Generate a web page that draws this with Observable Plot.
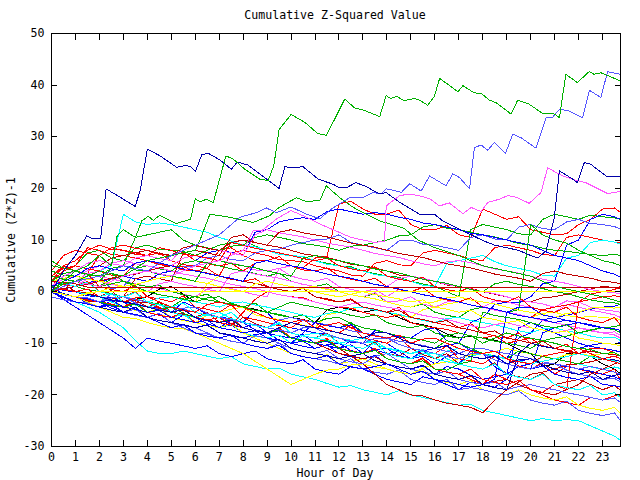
<!DOCTYPE html>
<html><head><meta charset="utf-8">
<script src="https://cdn.jsdelivr.net/npm/d3@7"></script>
<script src="https://cdn.jsdelivr.net/npm/@observablehq/plot@0.6"></script>
<style>
body{margin:0;background:#fff}
#chart svg path, #chart svg line{shape-rendering:crispEdges}
</style></head><body><div id="chart"></div><script>
// ---- data ----
const halfHours = [0,0.5,1,1.5,2,2.5,3,3.5,4,4.5,5,5.5,6,6.5,7,7.5,8,8.5,9,9.5,10,10.5,11,11.5,12,12.5,13,13.5,14,14.5,15,15.5,16,16.5,17,17.5,18,18.5,19,19.5,20,20.5,21,21.5,22,22.5,23,23.5,23.75];
const xTicks = [0,1,2,3,4,5,6,7,8,9,10,11,12,13,14,15,16,17,18,19,20,21,22,23];
const yTicks = [-30,-20,-10,0,10,20,30,40,50];

const bundleColors = ["red","green","blue","lightblue","red","cyan","green","blue","darkred",
  "blue","magenta","yellow","blue","blue","blue","cyan","black","red",
  "darkred","red","yellow","lightblue","cyan","blue","yellow","darkred","darkred","lightblue",
  "magenta","red","green","red","green","magenta","cyan","yellow","red","green",
  "lightblue","darkblue","magenta","red","cyan","blue","green","darkred","yellow","blue",
  "red","green","magenta","darkred","blue","lightblue","cyan","red","darkblue","green"];
const bundleValues = [
  [2,5,4,3.5,7,8.5,8,7.2,7,7.5,6,5.2,5,4.5,8,8.5,7,6,6,6.8,5,4.6,6.5,6.8,17,17.5,16,15,15,15.8,13,12,12,12.8,11,10.5,16,15,14,14.5,12,11.5,11,11.2,13,14,16,16.2,15.3],
  [6,4.5,5,7.5,8,6.5,6,8.5,9,8.2,8,7.8,7,8,9,9.5,10,8.8,8,7.5,7,6.8,6,5.5,5,4.8,4,3.5,3,2.8,2,1.5,1,0,-1,12,13,12.5,12,11.2,11,14,15,14.5,14,14.8,14.5,14.3,14],
  [1,0.2,0,-0.8,-1,-1.2,-2,-2.5,-3,-3.2,-4,-2,-3,-4.5,-5,-5.2,-6,-3.5,-4,-6.5,-7,-7.5,-8,-8.2,-9,-9.8,-10,-7.5,-8,-8.8,-9,-7.5,-7,-9.5,-10,-6,-5,-2.5,-2,-2.2,-1,1.5,2,9,10,14,15,14.5,14],
  [0,1.5,2,2.5,3,0.5,1,3.5,4,3.3,3,4.8,5,6.5,7,6.2,6,7.5,8,8.2,9,9.5,10,10.2,11,9.5,9,8.5,8,9.8,10,9.2,9,8.5,8,10.5,11,10.2,10,12.5,13,12.2,12,13.5,14,13.2,13,12.6,12.1],
  [3,4.5,5,8.5,8,7.2,7,6.5,6,5.2,5,4.8,4,3.5,3,7.5,8,7.5,7,6.2,6,5.8,5,4.5,4,3.2,3,5.5,6,5.2,5,7.5,8,7.5,7,6.3,6,8.5,9,8.5,8,7.2,7,10.5,11,10.5,10,9.6,9.5],
  [1,1.5,2,3,4,5,15,13.5,13,13.3,13,12.5,12,11.5,10.5,9.8,9,8.7,8,7.2,7,6.8,6,5.3,5,4.6,4,3.3,3,2.5,2,1.2,1,5.5,6,6.5,7,5.8,5,4.5,4,3.2,3,6.5,7,9.5,10,9.6,9.2],
  [4,3.2,3,2.5,2,4.5,5,10.5,11,11.5,12,10,9,8.5,8,8.8,9,10.5,11,10.5,10,9.3,9,8.6,8,8.8,9,9.5,10,10.8,11,12.5,13,12.3,12,11.5,11,10.6,10,9.3,9,8.4,8,7.8,7.5,7.2,7,7.2,7],
  [0,0.5,1,1.8,2,2.4,3,2.5,2,3.5,4,5.5,6,7.5,8,7.6,7,11.5,12,13.5,14,14.3,14,15.5,16,15.5,15,15.3,15,14.4,14,13.3,13,12.5,12,11.3,11,10.5,10,9.5,9,8,7,6.5,6,5,4,3.4,2.8],
  [0,-0.5,-1,-1.8,-2,-1.5,-1,2.5,3,2.5,2,7.5,8,7.5,7,10.5,11,9.5,9,8.6,8,7.3,7,6.6,6,5.3,5,4.6,4,3.2,3,2.5,2,1.3,1,0.6,0,-0.5,-1,-1.6,-2,-1.2,-1,-0.5,0,0.5,1,0.8,0.6],
  [1,-0.5,-1,-1.2,-2,-2.8,-3,-2,-4,-4.6,-5,-4.2,-6,-4.5,-5,-6.5,-7,-6.2,-8,-8.6,-9,-8.3,-10,-10.5,-11,-10.3,-12,-9.5,-10,-11.5,-12,-11.4,-13,-13.6,-14,-11.5,-12,-12.6,-13,-9,-8,-5.5,-5,-4.6,-4,-3.4,-3,-2.8,-2.4],
  [2,1.3,1,2.5,3,2.4,2,1.5,1,0.6,0,-0.5,-1,0.5,1,0.6,0,-0.6,-1,4.5,5,4.5,4,3.4,3,2.6,2,1.4,1,2.5,3,2.6,2,1.4,1,0.5,0,-0.4,-1,-1.6,-2,-2.4,-3,-1.8,-2,-3,-3.5,-3.8,-4],
  [0,-0.6,-1,-1.4,-2,-2.6,-3,-3.4,-4,-4.5,-5,-5.6,-6,-4.5,-4,-3.4,-3,-4.5,-5,-5.4,-6,-6.5,-7,-4.5,-4,-3.3,-3,-3.6,-4,-4.6,-5,-3.5,-3,-2.4,-2,-2.6,-3,-3.5,-4,-4.6,-5,-4.2,-4,-4.6,-5,-4.8,-5,-5.2,-5.4],
  [0,-0.4,-1,-2.2,-3,-2.4,-4,-4.6,-5,-4.3,-6,-6.6,-7,-6.4,-8,-8.6,-9,-8.3,-8,-9.4,-10,-9.6,-11,-10.3,-10,-11.4,-12,-11.2,-11,-12.4,-13,-12.5,-14,-12.5,-12,-12.6,-13,-12.4,-14,-14.6,-15,-8,-7,-6.5,-6,-6.6,-7,-7.4,-7.9],
  [0,-1.2,-2,-2.4,-3,-1.8,-2,-3.4,-4,-3.6,-5,-5.4,-6,-6.6,-7,-5.5,-6,-7.4,-8,-7.6,-9,-9.4,-10,-9.6,-11,-9.5,-10,-11.3,-12,-11.6,-13,-11.5,-11,-10.4,-10,-11.4,-12,-14.5,-16,-14.5,-14,-12.5,-12,-11.6,-11,-10.4,-10,-10.2,-9.8],
  [0,-0.6,-1,-1.4,-2,-3.2,-4,-3.4,-5,-5.6,-6,-4.5,-5,-6.2,-7,-6.4,-8,-8.6,-9,-8.4,-10,-10.6,-11,-10.3,-12,-12.6,-13,-12.4,-14,-14.6,-15,-14.4,-16,-14.5,-15,-16.2,-17,-16.5,-16,-7,-6,-7,-8,-9,-10,-10.6,-11,-11.4,-11.7],
  [1,0.4,0,-0.6,-1,-2,-3,-2.4,-4,-4.6,-5,-4.4,-6,-6.6,-7,-6.3,-8,-8.6,-9,-8.4,-10,-8.5,-8,-8.6,-9,-9.4,-10,-9.6,-11,-11.3,-12,-11.6,-13,-11.5,-11,-11.6,-12,-12.4,-13,-13.6,-14,-12.6,-13,-13.5,-14,-14.6,-15,-14.6,-14.9],
  [0,-0.6,-1,-1.5,-2,-2.6,-3,-1.5,-1,0.5,1,-0.5,-2,-1.2,-1,-2.2,-3,-3.4,-4,-4.6,-5,-5.4,-6,-3.5,-3,-3.5,-4,-3.6,-4,-5,-6,-6.4,-7,-8.2,-9,-8.6,-9,-9.4,-10,-11.2,-12,-14.5,-14,-12,-12,-12.5,-14,-15,-15.9],
  [3,2.4,2,3.5,1,0.4,0,1.2,-1,-1.4,-2,-0.8,-3,-3.4,-4,-2.5,-5,-5.4,-6,-6.6,-7,-5.5,-6,-7.4,-8,-6.5,-9,-9.4,-10,-8.8,-11,-11.4,-12,-10.5,-13,-13.4,-14,-12.5,-13,-14.4,-15,-13.8,-16,-14.5,-15,-15.6,-16,-15,-17.2],
  [1,1.5,0,-0.6,-1,0.2,-2,-2.6,-3,-2,-4,-4.6,-5,-4,-6,-6.5,-5,-6.2,-7,-6,-8,-8.6,-9,-8,-10,-10.6,-11,-9.8,-12,-12.5,-11,-12.2,-13,-12,-14,-14.6,-15,-13.8,-16,-16.5,-17,-15.8,-18,-17.5,-17,-18,-19,-18.2,-19.1],
  [2,1.4,1,2,0,-0.6,-1,0,-2,-3,-4,-3.5,-5,-5.6,-6,-5,-7,-7.6,-8,-7,-9,-9.6,-10,-9,-11,-11.5,-12,-11,-13,-13.6,-14,-12.8,-15,-15.6,-16,-17,-18,-16,-17,-18,-19,-20,-21,-21.5,-22,-20.5,-21,-20.2,-20],
  [0,-0.5,-1,-1.6,-2,-1.5,-3,-3.6,-4,-3.2,-5,-5.6,-6,-6.6,-7,-6.2,-8,-9,-10,-11,-12,-12.6,-13,-12.2,-14,-13.5,-13,-14,-15,-15.6,-16,-15,-17,-17.6,-18,-17.2,-19,-19.6,-20,-19,-20,-20.6,-21,-20.4,-22,-22.6,-23,-22.4,-23.6],
  [0,-0.6,-1,-2,-3,-2.6,-4,-4.6,-5,-4.2,-6,-6.6,-7,-8,-9,-8.4,-10,-10.6,-11,-10,-12,-12.6,-13,-13.4,-14,-13,-15,-15.6,-16,-15.2,-17,-17.6,-18,-17,-19,-18.6,-19,-19.6,-20,-19.2,-21,-21.6,-22,-21.2,-23,-23.6,-24,-23.5,-25],
  [0,-1,-2,-3,-4,-5.5,-7,-9.5,-11.5,-12,-12,-11.5,-12,-12.5,-13,-12.6,-14,-14.5,-15,-14.8,-16,-16.5,-17,-17.8,-18.5,-18.2,-19,-19.5,-20,-19.2,-20,-20.5,-21,-21.5,-22,-21.8,-23,-23.5,-24,-24.5,-25,-24.6,-25,-24.8,-25,-26,-27,-28,-28.8],
  [0,-1.5,-3,-4.5,-6,-7.5,-9,-11,-9,-9.6,-10,-10.5,-11,-10.5,-12,-12.6,-12,-11.5,-13,-13.6,-14,-13.2,-15,-15.6,-16,-14.5,-15,-16,-17,-17.5,-18,-16.5,-17,-18,-19,-17.5,-18,-18.5,-17,-13.5,-13,-13.6,-14,-14.5,-15,-15.4,-16,-16.5,-17],
  [0,-0.6,-1,-2,-3,-4,-5,-5.2,-6,-6.6,-7,-7.2,-8,-9,-10,-11,-12,-13.5,-15,-16.5,-18,-17,-16,-15.2,-15,-14.2,-14,-14.6,-15,-15.6,-16,-14.8,-14,-13.6,-13,-12.2,-12,-11.6,-11,-11.6,-12,-12.5,-13,-12.2,-12,-12.4,-12,-12.1,-12.5],
  [1,0.5,0,-0.2,-1,-1.6,-2,-1.6,-3,-3.6,-4,-3.4,-5,-5.6,-6,-5.2,-7,-7.6,-8,-7.4,-9,-9.6,-10,-9.2,-11,-12.5,-14,-16,-18,-19,-20,-20.2,-21,-21.6,-22,-22.4,-23.5,-21,-19,-17.5,-16,-15.6,-15,-14.2,-14,-13.6,-13,-13.6,-14],
  [0,-0.6,-1,-1.2,-2,-2.6,-3,-2.2,-2,-3.2,-4,-4.4,-5,-5.6,-6,-5.5,-7,-7.6,-8,-7.2,-9,-9.6,-10,-11,-12,-12.4,-13,-12.6,-14,-14.6,-15,-14.2,-16,-16.6,-17,-16.4,-18,-17.4,-17,-18,-19,-19.6,-20,-19,-18,-16,-15,-14,-13.5],
  [-1,-1.6,-2,-2.2,-3,-3.6,-4,-3.4,-5,-5.6,-6,-7,-8,-8.2,-9,-9.6,-10,-8.5,-9,-10,-11,-11.6,-12,-11.4,-13,-13.6,-14,-12.5,-12,-13.5,-15,-15.6,-16,-15.4,-17,-17.6,-18,-17.5,-19,-18.4,-18,-18.6,-19,-19.6,-20,-20.5,-21,-20.6,-21.5],
  [1,2.5,3,4,5,4.4,4,5.5,6,5.4,5,6.5,7,6.4,6,5.6,5,4.2,4,4.5,3,2.4,2,2.6,1,0.4,0,0.5,-1,0.5,0,-0.6,-1,-1.4,-2,-2.6,-3,-1.8,-2,-2.6,-3,-3.6,-4,-2.5,-3,-3.6,-4,-4.5,-5],
  [4,7,8,7.4,7,8.5,9,8.4,8,7.2,7,7.6,6,5.4,5,5.5,4,5.5,6,5.4,5,4.2,4,4.6,3,2.4,2,2.6,1,0.4,0,0.8,-1,-1.6,-2,-1.2,-3,-3.6,-4,-4.6,-5,-3.5,-3,-2.6,-2,-1.5,-1,-0.8,-1],
  [0,1.5,2,1.4,1,2.5,3,4.5,5,4.4,4,5.5,6,5.6,5,4.4,4,3.5,3,3.6,2,1.4,1,1.5,0,-0.6,-1,-0.4,-2,-2.6,-3,-2.4,-4,-4.6,-5,-3.5,-3,-3.6,-4,-3.5,13,11,10,9.4,8,7,6,5.5,5],
  [2,4,5,4.4,4,3.2,3,5.5,6,5.4,5,4.2,4,4.5,3,2.4,2,2.5,1,0.4,0,0.6,-1,-1.6,-2,-1.4,-3,-3.6,-4,-3,-5,-5.6,-6,-6.5,-7,-6.2,-8,-8.6,-9,-8,-10,-10.6,-11,-10.2,-12,-12.6,-13,-12.5,-13],
  [5,4.6,4,3.2,3,3.5,2,1.4,1,1.2,0,-0.6,-1,-0.5,-2,-2.6,-3,-2.2,-4,-4.6,-5,-4.5,-6,-6.6,-7,-6,-8,-8.6,-9,-8.4,-10,-10.6,-11,-9.5,-10,-11,-12,-12.5,-13,-11.5,-12,-12.6,-13,-13.5,-14,-12.5,-13,-13.6,-14],
  [0,0.6,1,1.5,2,1.4,1,0.4,0,1.5,2,1.4,1,0.4,0,3.5,4,3.4,3,2.6,2,1.4,1,0.6,0,-0.6,-1,-0.2,-2,-1.8,-1,-2.4,-3,-2,-2,-2.6,-3,-3.6,-4,-4.4,-5,-5.6,-6,-6.5,-7,-7.4,-8,-7.8,-8.5],
  [0,0.6,1,0.4,0,-0.6,-1,-1.4,-2,-1.2,-1,-1.6,-2,-2.4,-3,-2.2,-2,-2.6,-3,-3.5,-4,-4.6,-5,-4.2,-4,-3.2,-3,-3.6,-4,-4.4,-5,-5.6,-6,-5.2,-5,-5.6,-6,-6.4,-7,-7.6,-8,-7.2,-7,-7.6,-8,-8.6,-9,-8.8,-9.5],
  [0,-0.6,-1,-0.2,0,0.8,1,0.4,0,-0.6,-1,-1.4,-2,1.5,3,2.4,2,1.6,1,0.4,0,0.8,1,0.4,0,-0.6,-1,-1.4,-2,-2.6,-3,-2.2,-2,-1.2,-1,-1.6,-2,-2.4,-3,-3.6,-4,-4.4,-5,-4.2,-4,-3.2,-3,-3.2,-3],
  [0,-0.4,-1,-1.6,-2,-2.4,-3,-1.5,-2,-3.4,-4,-4.6,-5,-5.4,-6,-6.5,-4,-1.5,0,-0.6,-1,-1.2,-2,-2.6,-3,-3.2,-4,-4.6,-5,-4.5,-6,-6.6,-7,-7.3,-8,-8.6,-9,-8.5,-10,-9.5,-9,-10.5,-11,-11.6,-12,-11,-11,-11.8,-12.5],
  [2,1.6,1,0.4,0,-0.4,-1,-1.6,-2,-2.4,-3,-1.5,-1,-1.6,-2,-2.4,-3,-3.6,-4,-4.4,-5,-5.6,-6,-5.2,-5,-6.2,-7,-7.4,-8,-8.6,-9,-9.4,-10,-8.5,-8,-8.6,-9,-9.6,-10,-10.4,-11,-9.5,-9,-8.6,-8,-7.4,-7,-6.8,-6.5],
  [0,-0.6,-1,-1.4,-2,-1.2,-1,-1.6,-2,-2.6,-3,-3.4,-4,-4.6,-5,-5.5,-6,-6.4,-7,-5.5,-5,-5.6,-6,-6.4,-7,-7.6,-8,-8.4,-9,-9.6,-10,-10.4,-11,-11.6,-12,-11,-11,-11.6,-12,-12.4,-13,-13.6,-14,-14.4,-15,-14.5,-15,-15.6,-16],
  [0,-1,-2,-2.4,-3,-3.6,-4,-3,-5,-5.6,-6,-6.4,-7,-6.5,-8,-8.4,-9,-9.6,-10,-9.2,-11,-11.6,-12,-12.4,-13,-12.5,-12,-13.4,-14,-14.6,-15,-14.2,-16,-16.6,-17,-16.2,-18,-18.6,-19,-12,-10,-10.6,-11,-11.4,-12,-12.6,-13,-13.2,-13.5],
  [3,2.4,2,3.5,4,5.5,6,5.4,5,4.6,4,3.4,3,2.6,2,1.4,1,0.6,0,-0.6,-1,-1.4,-2,-2.6,-3,-2.4,-2,-2.6,-3,-3.4,-4,-4.6,-5,-5.4,-6,-6.6,-7,-6.4,-6,-6.6,-7,-7.4,-8,-7.5,-7,-7.6,-8,-8.4,-9],
  [0,-0.6,-1,-1.4,-2,-2.6,-3,-2,-4,-4.6,-5,-4,-6,-5.5,-5,-6.2,-7,-7.6,-8,-7,-9,-9.6,-10,-9.2,-11,-11.6,-12,-11,-13,-13.6,-14,-13,-15,-15.6,-16,-15,-17,-17.6,-18,-17.2,-19,-19.5,-18,-19,-2,-0.5,0,0.4,1],
  [1,0.4,0,-0.6,-1,-0.4,-2,-2.6,-3,-2.4,-4,-4.6,-5,-4.5,-4,-5.2,-6,-6.6,-7,-6.2,-8,-8.6,-9,-9.4,-10,-9.5,-9,-10.2,-11,-11.6,-12,-11.2,-13,-13.6,-14,-12.5,-12,-12.6,-13,-13.4,-14,-13.5,-13,-12.6,-12,-12.6,-13,-13.4,-14],
  [0,-1,-2,-2.4,-3,-2.6,-4,-4.4,-5,-6,-7,-6.4,-8,-8.6,-9,-8.4,-10,-10.6,-11,-10.4,-12,-12.6,-13,-12.4,-14,-14.6,-15,-14.5,-14,-15,-16,-15.4,-17,-17.4,-18,-18.5,-18,-17,-4,-4.6,-5,-5.4,-6,-5.5,-6,-6.6,-7,-7.4,-8],
  [0,-0.6,-1,-1.4,-2,-2.6,-3,-2.4,-4,-3.5,-3,-4.2,-5,-5.6,-6,-5.4,-7,-7.6,-8,-7.4,-9,-9.6,-10,-9.4,-11,-11.6,-12,-11.4,-13,-13.6,-14,-13.4,-15,-15.2,-14,-13.5,-4,-4.6,-5,-5.4,-6,-6.6,-7,-6.4,-8,-7.5,-7,-7.4,-8],
  [0,0.6,1,1.4,2,2.6,3,3.4,4,4.6,5,4.4,4,3.6,3,2.4,2,1.6,1,0.4,0,0.6,-1,-1.4,-2,-1.6,-3,-3.4,-4,-3.6,-5,-5.4,-6,-5.6,-7,-7.4,-8,-7.6,-9,-9.4,-10,-9.6,-11,-11.4,-12,-11.5,-12,-12.2,-12.5],
  [2,2.6,3,2.4,2,1.6,1,1.4,2,2.6,3,2.4,2,1.6,1,0.4,0,1.5,2,1.4,1,0.6,0,-0.6,-1,-0.5,0,-0.6,-1,-1.4,-2,-1.6,-3,-3.4,-4,-3.6,-5,-5.4,-6,-5.6,-7,-7.4,-8,-7.6,-9,-9.4,-10,-10.2,-10.5],
  [0,-0.6,-1,-1.4,-2,-1.6,-3,-3.4,-4,-3.6,-5,-5.4,-6,-5.6,-7,-7.4,-8,-7.6,-9,-9.4,-10,-8,-6,-6.6,-7,-6.4,-8,-8.6,-9,-8.4,-10,-10.6,-11,-10.4,-12,-12.6,-13,-12.4,-14,-14.6,-15,-14.4,-16,-16.6,-17,-16.4,-18,-18.2,-18.5],
  [3,5,6,8,9,8.2,8,7.5,7,8.5,8,7.2,7,6.5,6,9.5,9,8.4,8,7.5,7,6.4,6,6.5,5,4.4,4,4.8,3,2.4,2,2.8,1,0.4,0,0.8,-1,-1.6,-2,-1,-3,-3.6,-4,-3,-5,-5.6,-6,-5,-6.5],
  [2,3.5,4,3.4,3,4.5,5,4.2,4,3.4,3,2.6,2,5.5,6,5.4,5,4.6,4,3.5,3,6.5,7,6.4,6,5.5,5,4.4,4,3.6,3,2.4,2,1.6,1,0.4,0,1.5,2,1.4,1,0.6,0,-0.4,-1,-1.6,-2,-2.2,-2.5],
  [1,3,4,5.5,6,5.4,5,6.5,7,6.4,6,8.5,9,8.4,8,7.5,7,11,12,11.4,11,10.6,10,9.4,9,8.6,8,7.4,7,6.6,6,5.4,5,5.8,6,5.6,5,4.4,4,3.6,3,2.4,2,1.6,1,0.4,0,-0.2,-0.5],
  [0,2,3,4.5,5,6.5,7,7.5,8,7.4,7,8.5,9,8.4,8,9.5,10,9.5,9,11.5,12,11.4,11,10.6,10,9.4,9,8.6,8,7.4,7,6.6,6,5.4,5,4.6,4,3.4,3,2.6,2,3.5,4,3.4,3,2.6,2,1.8,1.5],
  [1,2,3,4.5,5,4.4,4,5.5,6,5.6,5,4.4,4,3.5,3,2.6,2,5.5,6,5.4,5,4.6,4,3.4,3,2.6,2,1.4,1,0.5,0,-0.6,-1,-1.4,-2,-2.6,-3,-3.4,-4,-3,-3,-4.5,-5,-5.6,-6,-6.4,-7,-7.2,-7.5],
  [0,-0.6,-1,-1.2,-2,-0.5,-1,-2.2,-3,-3.4,-4,-3.2,-3,-4.2,-5,-5.4,-6,-6.6,-7,-7.4,-8,-7,-7,-8.2,-9,-9.6,-10,-9,-9,-10.2,-11,-11.4,-12,-12.6,-13,-12,-12,-13.2,-14,-14.6,-15,-14,-14,-15.2,-16,-16.4,-17,-16.8,-17.5],
  [2,1.6,1,1.8,0,-0.6,-1,-0.2,-2,-2.6,-3,-2.2,-4,-4.6,-5,-4,-6,-6.6,-7,-6,-8,-8.6,-9,-8.2,-10,-10.6,-11,-10,-12,-12.6,-13,-12,-12,-13,-14,-14.6,-15,-14,-16,-16.6,-17,-16,-18,-18.6,-19,-18.2,-20,-19.6,-20.5],
  [1,0.4,0,0.5,-1,-1.6,-2,-1.2,-1,-2,-3,-3.6,-4,-2.5,-2,-2.6,-3,-4,-5,-5.6,-6,-5.4,-7,-6.5,-6,-7,-8,-8.6,-9,-8.4,-10,-9.2,-9,-10,-11,-11.6,-12,-11.5,-13,-13.6,-14,-12.5,-12,-11.6,-11,-12,-13,-13.6,-14],
  [0,-0.4,-1,-0.5,-1,-1.6,-2,-2.4,-3,-3.6,-4,-3.5,-5,-5.6,-6,-5.5,-7,-7.6,-8,-7,-6,-6.6,-7,-7.5,-8,-8.6,-9,-8,-8,-9,-10,-10.6,-11,-10.5,-12,-12.6,-13,-12.5,-14,-13.2,-13,-14.2,-15,-15.6,-16,-15.5,-17,-16.2,-16],
  [3,2.4,2,1.6,1,1.5,2,1,0,-0.6,-1,-1.4,-2,-1.2,-1,-2.2,-3,-3.6,-4,-3,-2,-2.6,-3,-3.5,-4,-4.6,-5,-4.5,-6,-6.6,-7,-6.5,-8,-8.6,-9,-8.5,-10,-9,-8,-8.6,-9,-9.5,-10,-10.6,-11,-11.2,-12,-11.8,-12.5]
];

// two flat series
const flatRedHours = [0,1,1.5,23.75];
const flatRedValues = [2,1.5,0.85,0.85];
const flatYellowHours = [0,1,2,23.75];
const flatYellowValues = [0,-1,0.1,0.1];

// detailed upper series
const topGreenHours = [0,0.5,1,1.5,2,2.5,2.74,3.0,3.5,3.77,4.04,4.25,4.52,5.2,5.8,6.0,6.2,6.47,6.75,7.28,7.58,8.07,8.69,9.04,9.28,9.5,10.0,10.57,11.12,11.47,11.82,12.24,12.65,13.0,13.7,13.97,14.15,14.42,14.7,15.15,15.4,15.7,15.98,16.2,16.53,16.96,17.17,17.64,17.93,18.28,18.56,19.18,19.46,19.94,20.5,20.99,21.2,21.47,21.95,22.44,22.65,22.93,23.35,23.75];
const topGreenValues = [0,2,4,5,7,5,10.8,12,10.5,13.7,14.6,13.8,14.8,13.2,14,18,17.4,17.9,17.2,26.3,25.7,23.7,21.8,21.5,24.4,31.4,34.3,32.8,30.6,30.3,33.4,37.3,35.6,35.2,33.9,38,37.4,37.8,37,37.4,37,36.1,37.8,41.3,40.2,38.7,39.9,38.5,38.4,37.1,36.6,34.4,37.1,36.3,34.5,34.4,33.7,42.1,40.5,42.6,42.1,42.4,41.6,40.8];

const darkBlueHours = [0,0.5,1,1.47,1.75,2.05,2.28,2.86,3.49,3.7,4.0,4.53,5.22,5.57,5.78,6.01,6.27,6.54,7.03,7.51,7.75,8.21,8.69,9.5,9.74,10.08,10.5,11.13,11.75,12.03,12.3,12.7,13.07,13.7,13.97,14.53,15.36,15.98,16.33,17.16,18,18.5,19,19.5,20,20.3,20.64,20.99,21.2,21.75,21.95,22.24,22.5,23.2,23.75];
const darkBlueValues = [0,4,7,10.8,10.2,10.3,19.9,18.3,16.5,19.5,27.6,26.3,24.1,24.4,24.3,23.3,26.5,26.8,25.5,23.7,25.1,24.5,22.8,20,24.2,24,24.2,21.8,20.8,20.1,20.1,21.1,20.5,18.9,19.2,17.3,15,15,13.7,11.8,9.9,9,8.5,8,7,6.5,7.9,14.4,23.4,21.8,21.1,25,24.7,22.2,22.4];

const lightBlueHours = [0,1,2,3,4,5,6,7,7.86,8.55,8.97,9.39,10,10.64,11.2,11.68,12.45,13,13.42,13.76,13.97,14.32,14.6,14.95,15.43,15.78,16.47,16.75,17.03,17.45,17.65,17.93,18.21,18.49,18.95,19.25,19.6,20.22,20.64,20.92,21.2,21.54,22.17,22.45,22.93,23.21,23.75];
const lightBlueValues = [0,2,3,5,4,7,9,11,14.4,15.3,16.2,15.3,16.4,15,14.1,16,18.2,18.2,19.2,18.9,19.9,19.6,19.2,20.9,19.5,22.4,20.5,22.8,22.1,19.9,27.9,28.4,27.4,28.9,26.8,30.5,29.8,27.8,33.7,33.8,35.3,35.1,33.7,39,37.6,42.6,42.1];

const magentaHours = [0,1,2,3,4,5,6,7,8,8.42,8.8,9.4,10,10.6,11.2,11.75,12.5,13.5,13.9,13.97,14.53,14.95,15.4,15.78,16.2,16.6,17.17,17.52,17.93,18.21,18.7,19.04,19.4,19.94,20.43,20.71,21.33,21.95,22.3,23.21,23.75];
const magentaValues = [0,2,1,3,4,3,5,6,8,11.8,11.9,14.1,15.7,14.5,13.1,12,10.5,9.5,9.8,16.6,18.6,18.9,18.5,18,16.6,17.2,15.1,16.3,15.5,17.3,17.9,18.6,18.3,17.1,19.2,24,22.4,21.5,21.1,19,19.4];

const midGreenHours = [0,1,2,3,4,5,6,6.2,6.61,7.45,8.42,9.1,9.5,10.23,10.6,11.2,11.47,12.03,12.6,13.7,14.7,15.3,16,17,18,19,20,21,22,23,23.75];
const midGreenValues = [1,2,4,3,6,7,8,10,15,14.4,13.4,14.7,16.3,18.2,17.5,17.6,20.5,18.2,16.3,13.7,12.3,10,8.5,7,5,4,3,1,0,-1,-2];

const palette = {red:"#ff0000", green:"#00b000", blue:"#0000ff", magenta:"#ff55ff", cyan:"#00ffff",
  darkred:"#c00000", yellow:"#ffff00", black:"#000000", lightblue:"#5555ff", darkblue:"#0000a8"};

// ---- build rows ----
const rows = [];
const bad = [];
bundleValues.forEach((vals, i) => {
  if (vals.length !== halfHours.length) bad.push(i + ":" + vals.length);
  d3.zip(halfHours, vals).forEach(([h, v]) => rows.push({id: "b" + i, h, v, c: palette[bundleColors[i]]}));
});
const detailed = [
  ["flatRed", flatRedHours, flatRedValues, "darkred"],
  ["flatYellow", flatYellowHours, flatYellowValues, "yellow"],
  ["midGreen", midGreenHours, midGreenValues, "green"],
  ["magenta", magentaHours, magentaValues, "magenta"],
  ["lightBlue", lightBlueHours, lightBlueValues, "lightblue"],
  ["darkBlue", darkBlueHours, darkBlueValues, "darkblue"],
  ["topGreen", topGreenHours, topGreenValues, "green"]
];
detailed.forEach(([id, hs, vs, col]) => {
  d3.zip(hs, vs).forEach(([h, v]) => rows.push({id, h, v, c: palette[col]}));
});

const font = "'DejaVu Sans Mono', monospace";
const chart = Plot.plot({
  width: 640, height: 480,
  marginLeft: 51, marginRight: 20, marginTop: 33, marginBottom: 34,
  x: {domain: [0, 23.75]},
  y: {domain: [-30, 50]},
  color: {type: "identity"},
  style: {fontFamily: font, fontSize: "11.6px", background: "#fff", color: "#000", overflow: "visible"},
  marks: [
    Plot.line(rows, {x: "h", y: "v", z: "id", stroke: "c", strokeWidth: 1}),
    Plot.frame({stroke: "#000", strokeWidth: 1}),
    Plot.axisX({anchor: "bottom", ticks: xTicks, tickSize: -6, tickPadding: 12, tickFormat: d => String(d), label: null, stroke: "#000"}),
    Plot.axisX({anchor: "top", ticks: xTicks, tickSize: -6, tickFormat: () => "", label: null, stroke: "#000"}),
    Plot.axisY({anchor: "left", ticks: yTicks, tickSize: -6, tickPadding: 13, tickFormat: d => String(d), label: null, stroke: "#000"}),
    Plot.axisY({anchor: "right", ticks: yTicks, tickSize: -6, tickFormat: () => "", label: null, stroke: "#000"})
  ]
});
const svg = d3.select(chart);
svg.append("text").attr("x", 335).attr("y", 19).attr("text-anchor", "middle")
  .attr("font-family", font).attr("font-size", "11.6px").attr("fill", "#000").text("Cumulative Z-Squared Value");
svg.append("text").attr("x", 335).attr("y", 477).attr("text-anchor", "middle")
  .attr("font-family", font).attr("font-size", "11.6px").attr("fill", "#000").text("Hour of Day");
svg.append("text").attr("transform", "translate(15,240) rotate(-90)").attr("text-anchor", "middle")
  .attr("font-family", font).attr("font-size", "11.6px").attr("fill", "#000").text("Cumulative (Z*Z)-1");
document.getElementById("chart").appendChild(chart);
if (bad.length) throw new Error("length mismatch: " + bad.join(", "));
</script></body></html>
